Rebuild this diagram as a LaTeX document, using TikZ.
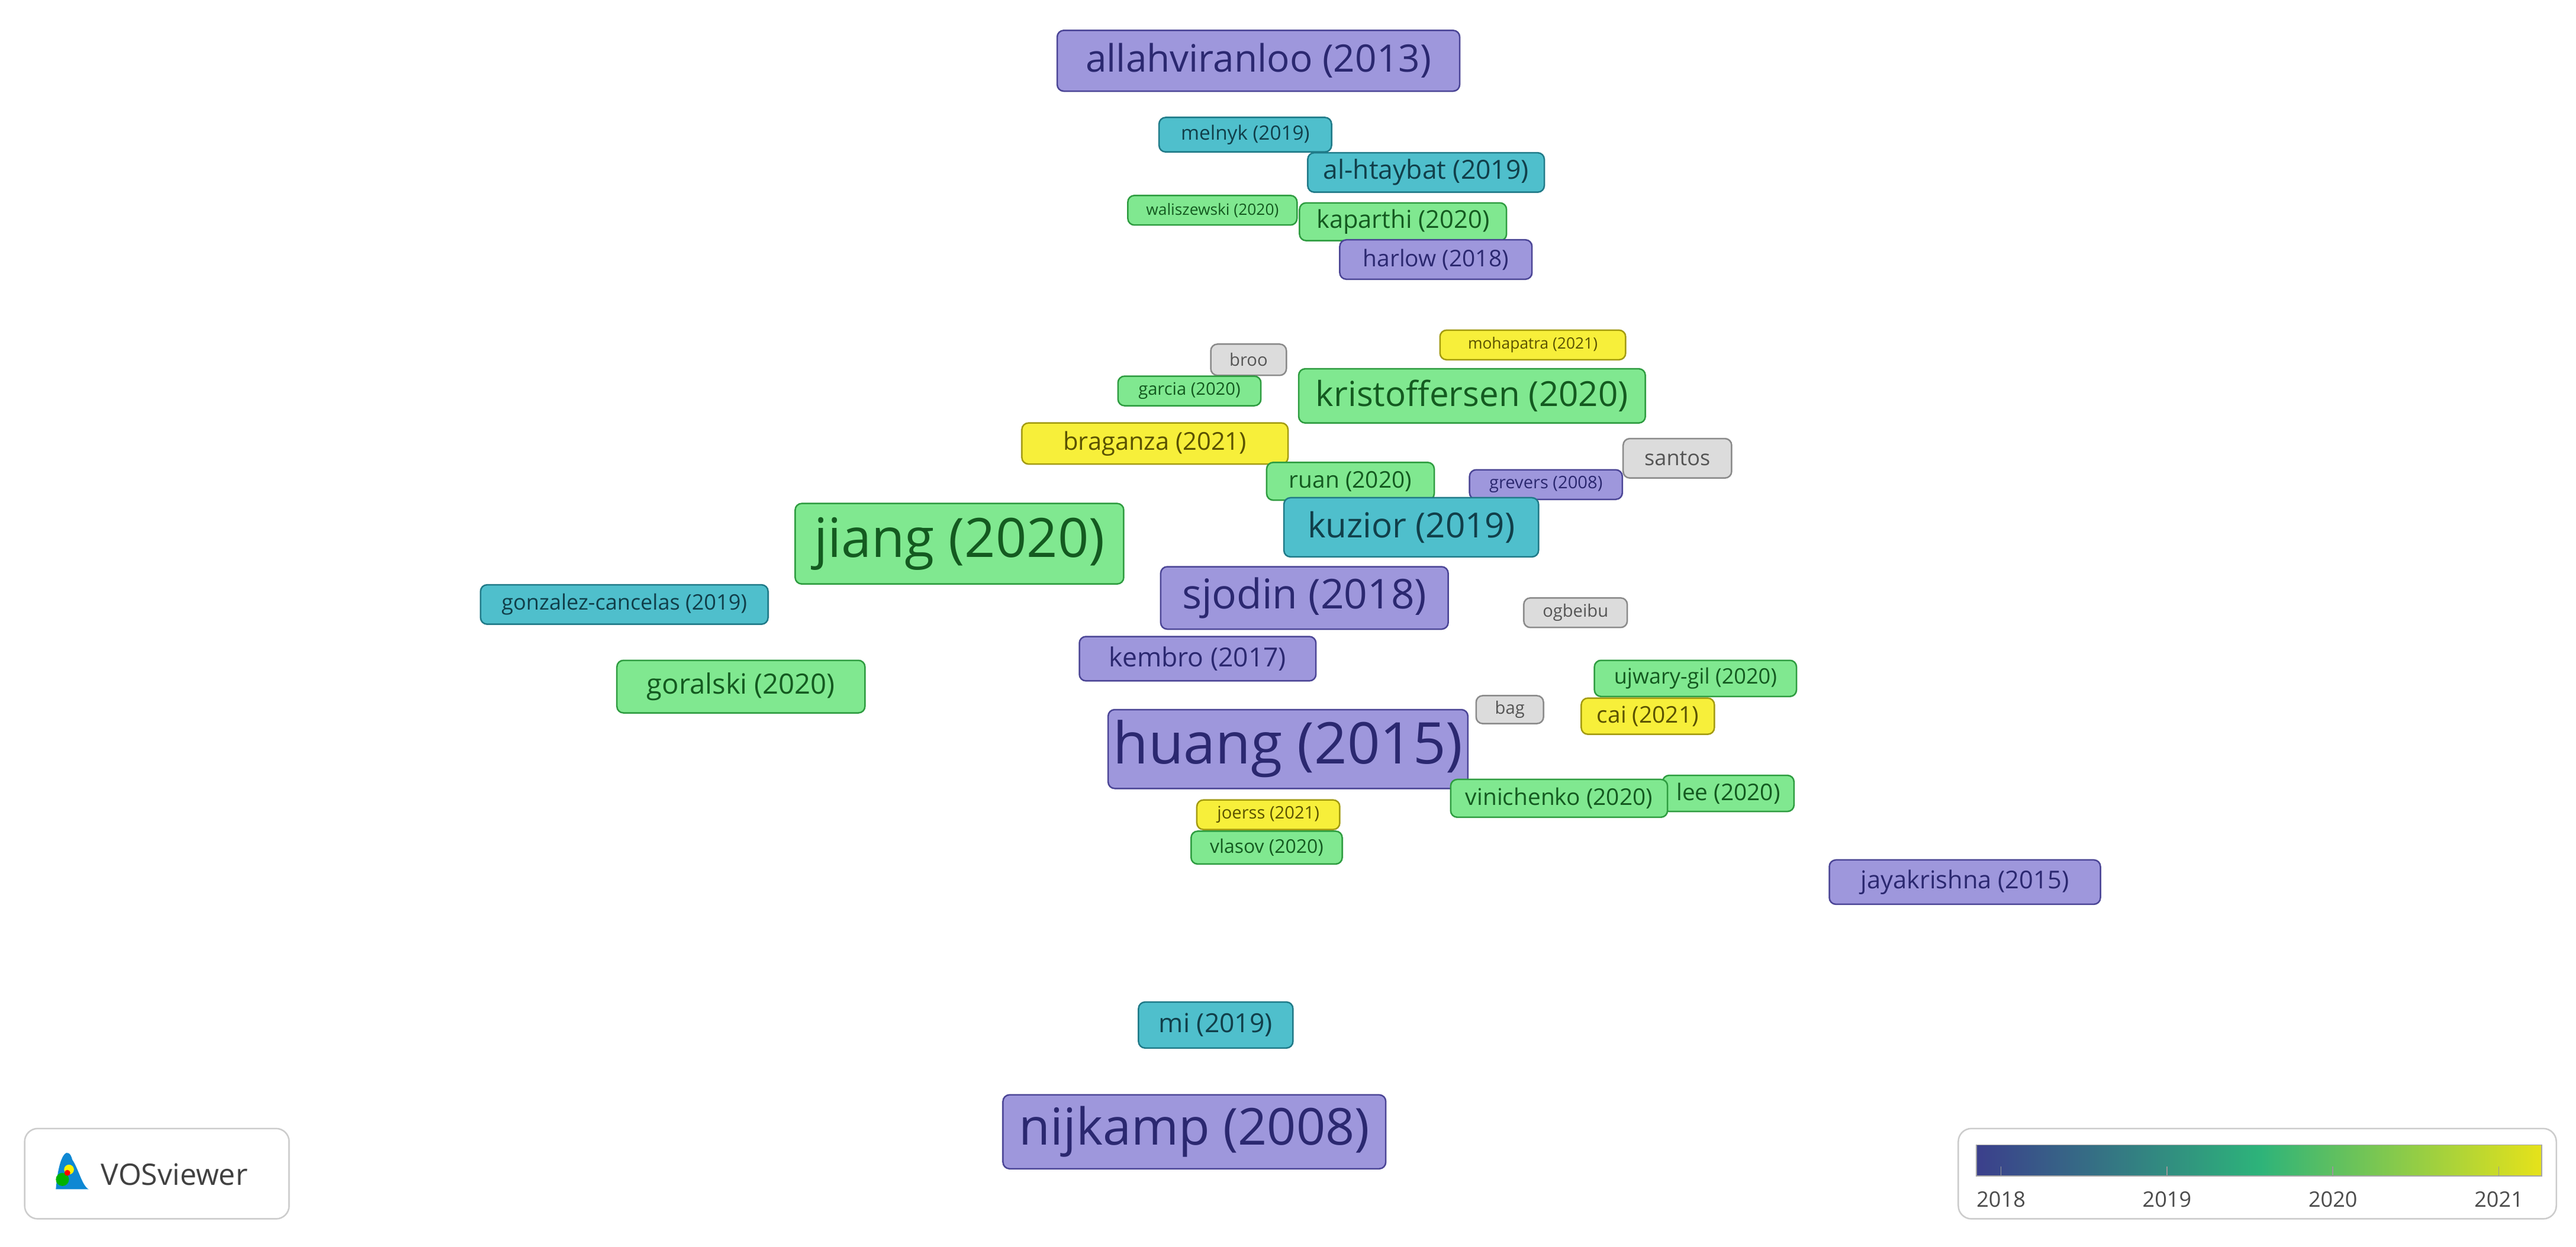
\documentclass[tikz,border=0pt]{standalone}
\usepackage{fontspec}
\setmainfont{Open Sans}
\usetikzlibrary{backgrounds}
\definecolor{pF}{HTML}{9E97DC}\definecolor{pD}{HTML}{4B4596}\definecolor{pT}{HTML}{2B2870}
\definecolor{tF}{HTML}{4FBFCC}\definecolor{tD}{HTML}{207A88}\definecolor{tT}{HTML}{113F4A}
\definecolor{gF}{HTML}{80E890}\definecolor{gD}{HTML}{2E9C40}\definecolor{gT}{HTML}{145A20}
\definecolor{yF}{HTML}{F7EF3A}\definecolor{yD}{HTML}{A39B10}\definecolor{yT}{HTML}{5A5200}
\definecolor{xF}{HTML}{DCDCDC}\definecolor{xD}{HTML}{8A8A8A}\definecolor{xT}{HTML}{555555}
\definecolor{c18}{HTML}{3B3F8C}\definecolor{c19}{HTML}{218F8D}\definecolor{c20}{HTML}{2DB37A}\definecolor{c21}{HTML}{E6E21A}
\tikzset{
 nd/.style={rounded corners=4pt, inner sep=0pt, line width=0.9pt},
 pu/.style={nd, fill=pF, draw=pD, text=pT},
 te/.style={nd, fill=tF, draw=tD, text=tT},
 gr/.style={nd, fill=gF, draw=gD, text=gT},
 ye/.style={nd, fill=yF, draw=yD, text=yT},
 gy/.style={nd, fill=xF, draw=xD, text=xT},
 e/.style={line width=0.9pt, opacity=0.45},
}
\newcommand{\nd}[9]{\node[#6, minimum width=#4pt, minimum height=#5pt] (#1) at (#2,#3) {\fontsize{#7}{#7}\selectfont #8#9};}
\begin{document}
\begin{tikzpicture}[x=1pt,y=-1pt]
\useasboundingbox (0,0) rectangle (1568,759);
\fill[white] (0,0) rectangle (1568,759);
\nd{allah}{766}{37}{245}{37}{pu}{23}{allahviranloo (2013)}{}
\nd{melnyk}{758}{82}{105}{21}{te}{12}{melnyk (2019)}{}
\nd{alh}{868}{105}{144}{24}{te}{16}{al-htaybat (2019)}{}
\nd{wal}{738}{128}{103}{18}{gr}{9.5}{waliszewski (2020)}{}
\nd{kap}{854}{135}{126}{23}{gr}{15}{kaparthi (2020)}{}
\nd{harlow}{874}{158}{117}{24}{pu}{14}{harlow (2018)}{}
\nd{moha}{933}{210}{113}{18}{ye}{9.5}{mohapatra (2021)}{}
\nd{broo}{760}{219}{46}{19}{gy}{10.5}{broo}{}
\nd{garcia}{724}{238}{87}{18}{gr}{10.5}{garcia (2020)}{}
\nd{kris}{896}{241}{211}{33}{gr}{21}{kristoffersen (2020)}{}
\nd{brag}{703}{270}{162}{25}{ye}{15}{braganza (2021)}{}
\nd{santos}{1021}{279}{66}{24}{gy}{13}{santos}{}
\nd{ruan}{822}{293}{102}{23}{gr}{14}{ruan (2020)}{}
\nd{grev}{941}{295}{93}{18}{pu}{10.5}{grevers (2008)}{}
\nd{kuzior}{859}{321}{155}{36}{te}{21}{kuzior (2019)}{}
\nd{jiang}{584}{331}{200}{49}{gr}{33}{jiang (2020)}{}
\nd{sjodin}{794}{364}{175}{38}{pu}{25}{sjodin (2018)}{}
\nd{gonz}{380}{368}{175}{24}{te}{13}{gonzalez-cancelas (2019)}{}
\nd{ogb}{959}{373}{63}{18}{gy}{10.5}{ogbeibu}{}
\nd{kembro}{729}{401}{144}{27}{pu}{16}{kembro (2017)}{}
\nd{gora}{451}{418}{151}{32}{gr}{17}{goralski (2020)}{}
\nd{ujw}{1032}{413}{123}{22}{gr}{13}{ujwary-gil (2020)}{}
\nd{bag}{919}{432}{41}{17}{gy}{10.5}{bag}{}
\nd{cai}{1003}{436}{81}{22}{ye}{14}{cai (2021)}{}
\nd{huang}{784}{456}{219}{48}{pu}{35}{huang (2015)}{}
\nd{lee}{1052}{483}{80}{22}{gr}{14}{lee (2020)}{}
\nd{vini}{949}{486}{132}{23}{gr}{14}{vinichenko (2020)}{}
\nd{joerss}{772}{496}{87}{18}{ye}{10.5}{joerss (2021)}{}
\nd{vlasov}{771}{516}{92}{20}{gr}{11.5}{vlasov (2020)}{}
\nd{jaya}{1196}{537}{165}{27}{pu}{15}{jayakrishna (2015)}{}
\nd{mi}{740}{624}{94}{28}{te}{16}{mi (2019)}{}
\nd{nij}{727}{689}{233}{45}{pu}{31}{nijkamp (2008)}{}
\begin{scope}[on background layer]
\foreach \a/\b/\c/\bb in {jiang/kris/c21/15, jiang/sjodin/c21/-10, jiang/huang/c20/20, jiang/kuzior/c21/10, jiang/allah/c20/25, jiang/harlow/c20/20, jiang/gonz/c20/-10, jiang/gora/c19/10, jiang/ujw/c21/-15, jiang/vini/c21/20, jiang/lee/c21/25, jiang/brag/c21/5, jiang/ruan/c21/-5,
 brag/kris/c21/10, brag/sjodin/c21/-15, brag/cai/c21/15, brag/huang/c21/20, brag/ujw/c21/10,
 kris/huang/c20/15, kris/sjodin/c21/-10, kris/cai/c21/10, kris/allah/c20/-20, kris/alh/c19/10, kris/kap/c20/-10, kris/vini/c21/15,
 sjodin/cai/c21/10, sjodin/ujw/c21/-10, sjodin/lee/c21/15, sjodin/harlow/c18/10, sjodin/allah/c19/-15, sjodin/vini/c21/-10,
 huang/ujw/c21/10, huang/cai/c21/-5, huang/allah/c18/20, huang/mi/c19/-15, huang/nij/c18/15, huang/jaya/c21/10, huang/gora/c18/-10,
 allah/melnyk/c19/10, allah/kap/c20/15, allah/harlow/c18/-10, allah/alh/c19/10, allah/kuzior/c19/15,
 melnyk/huang/c19/20, alh/sjodin/c19/-10, kap/huang/c20/15, harlow/huang/c18/-15, wal/huang/c20/20, wal/kris/c20/10,
 mi/kris/c19/20, mi/nij/c21/10, nij/sjodin/c21/-20, vlasov/mi/c20/10, joerss/kris/c21/-20,
 kuzior/ujw/c21/10, kuzior/lee/c20/-15, kuzior/santos/c21/10, kuzior/ogb/c21/5, ruan/vini/c21/10, gora/huang/c18/-20,
 gonz/sjodin/c19/15, moha/kembro/c21/10, garcia/huang/c20/10, kembro/ujw/c21/-10, kembro/kris/c21/15, ujw/jaya/c21/10, cai/lee/c21/10, huang/vini/c21/-10, kuzior/vlasov/c21/-20}
 { \draw[e, draw=\c] (\a) to[bend left=\bb] (\b); }
\end{scope}
% VOSviewer logo
\draw[gray!40, line width=0.9pt, rounded corners=8pt] (15,687) rectangle (176,742);
\fill[cyan!70!blue] (34,724) .. controls (36,700) and (42,698) .. (44,706) .. controls (48,712) and (50,722) .. (54,724) -- cycle;
\fill[green!70!black] (38,718) circle (4);
\fill[yellow] (42,712) circle (3);
\fill[red] (41,714) circle (1.8);
\node[anchor=west, text=black!75] (logo) at (58,715) {\fontsize{18}{18}\selectfont VOSviewer};
% legend
\draw[gray!40, line width=0.9pt, rounded corners=8pt] (1192,687) rectangle (1556,742);
\shade[left color=c18, right color=c21, middle color=c20] (1203,697) rectangle (1547,716);
\draw[gray!70, line width=0.6pt] (1203,697) rectangle (1547,716);
\foreach \x/\y in {1218/2018,1319/2019,1420/2020,1521/2021}{
 \draw[gray!80, line width=0.6pt] (\x,710) -- (\x,716);
 \node[text=black!70] (t\y) at (\x,730) {\fontsize{13}{13}\selectfont \y};}
\end{tikzpicture}
\end{document}
